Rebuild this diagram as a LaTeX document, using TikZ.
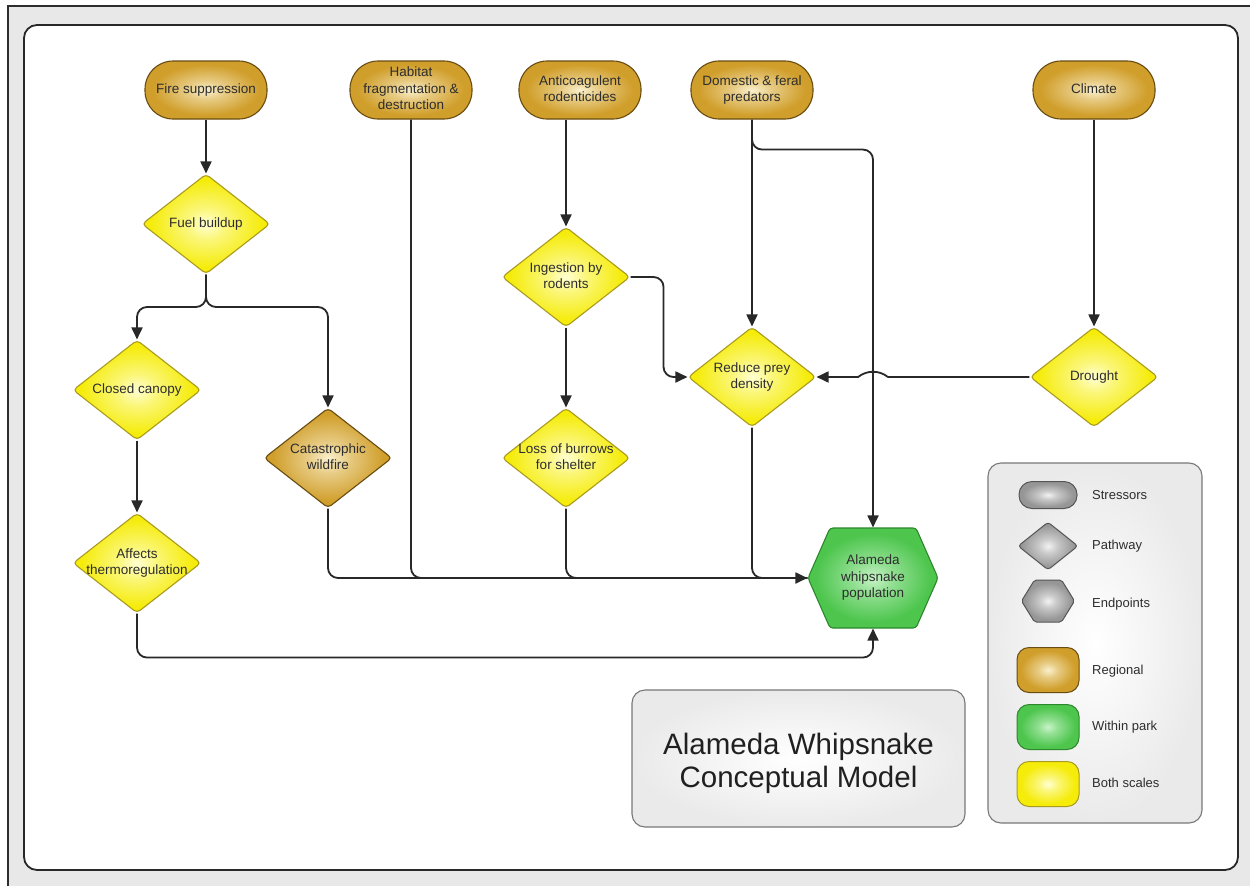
\documentclass[tikz,border=0pt]{standalone}
\usepackage{fontspec}
\setmainfont{Liberation Sans}
\usetikzlibrary{shapes.geometric,arrows.meta,calc}

% fill colours: light centre, saturated rim
\definecolor{goldin}{RGB}{250,240,205}
\definecolor{goldout}{RGB}{208,158,42}
\definecolor{goldedge}{RGB}{105,76,18}
\definecolor{yelin}{RGB}{255,255,210}
\definecolor{yelout}{RGB}{245,236,10}
\definecolor{yeledge}{RGB}{170,155,30}
\definecolor{grnin}{RGB}{200,243,200}
\definecolor{grnout}{RGB}{78,198,78}
\definecolor{grnedge}{RGB}{45,135,45}
\definecolor{gryin}{RGB}{242,242,242}
\definecolor{gryout}{RGB}{150,150,150}
\definecolor{gryedge}{RGB}{85,85,85}
\definecolor{panelin}{RGB}{255,255,255}
\definecolor{panelout}{RGB}{234,234,234}
\definecolor{paneledge}{RGB}{120,120,120}
\definecolor{ink}{RGB}{45,45,45}
\definecolor{wire}{RGB}{40,40,40}
\definecolor{pagegray}{RGB}{232,232,232}

\pgfdeclareradialshading{goldball}{\pgfpointorigin}{color(0bp)=(goldin); color(8bp)=(goldin!55!goldout); color(22bp)=(goldout); color(50bp)=(goldout)}
\pgfdeclareradialshading{yelball}{\pgfpointorigin}{color(0bp)=(yelin); color(8bp)=(yelin!55!yelout); color(22bp)=(yelout); color(50bp)=(yelout)}
\pgfdeclareradialshading{grnball}{\pgfpointorigin}{color(0bp)=(grnin); color(8bp)=(grnin!55!grnout); color(22bp)=(grnout); color(50bp)=(grnout)}
\pgfdeclareradialshading{gryball}{\pgfpointorigin}{color(0bp)=(gryin); color(8bp)=(gryin!55!gryout); color(22bp)=(gryout); color(50bp)=(gryout)}
\pgfdeclareradialshading{panelball}{\pgfpointorigin}{color(0bp)=(panelin); color(25bp)=(panelout); color(50bp)=(panelout)}

% centred lines in a box of zero width, so the text never enlarges its shape
\newcommand{\stacked}[1]{\makebox[0pt]{\begin{tabular}{@{}c@{}}#1\end{tabular}}}

\tikzset{
  base/.style={font=\fontsize{13.5}{16.5}\selectfont, text=ink, line width=1.1pt, inner sep=0pt},
  stressor/.style={base, rectangle, rounded corners=28pt, minimum width=122pt,
    minimum height=58pt, shade, shading=goldball, draw=goldedge},
  pathway/.style={base, diamond, rounded corners=4pt, minimum width=128pt,
    minimum height=100pt, shade, shading=yelball, draw=yeledge},
  regpath/.style={pathway, shading=goldball, draw=goldedge},
  hexbox/.style={base, rectangle, minimum width=130pt, minimum height=100pt},
  hexfill/.style={shading=grnball, draw=grnedge, line width=1.1pt, rounded corners=3pt},
  wire/.style={draw=wire, line width=1.8pt, rounded corners=10pt},
  arr/.style={wire, -{Triangle[length=12pt,width=11pt]}},
  panel/.style={rectangle, rounded corners=13pt, shade, shading=panelball,
    draw=paneledge, line width=1.1pt},
  legtext/.style={font=\fontsize{13}{15}\selectfont, text=ink, anchor=west, inner sep=0pt},
  legshape/.style={line width=1pt, shade, shading=gryball, draw=gryedge, inner sep=0pt},
  legscale/.style={rectangle, rounded corners=12pt, minimum width=62pt,
    minimum height=45pt, line width=1pt, inner sep=0pt}
}

\begin{document}
\begin{tikzpicture}[x=1pt,y=-1pt]
\useasboundingbox (0,0) rectangle (1250,886);

% page and frame
\fill[white] (0,0) rectangle (1250,886);
\fill[pagegray] (8,6) rectangle (1250,886);
\draw[ink, line width=1.5pt] (8,886) -- (8,6) -- (1250,6);
\filldraw[fill=white, draw=wire, line width=1.8pt, rounded corners=13pt] (24,25) rectangle (1238,870);

% legend panel and title panel
\node[panel, minimum width=214pt, minimum height=360pt] (legend) at (1095,643) {};
\node[panel, minimum width=333pt, minimum height=137pt] (title) at (798.5,758.5) {};
\node[font=\fontsize{29.5}{33}\selectfont, text=ink!70!black, align=center, inner sep=0pt]
  (titletext) at (798.5,763) {Alameda Whipsnake\\Conceptual Model};

% stressors
\node[stressor] (fire) at (206,90) {\stacked{Fire suppression}};
\node[stressor] (habitat) at (411,90) {\stacked{Habitat\\fragmentation \&\\destruction}};
\node[stressor] (anti) at (580,90) {\stacked{Anticoagulent\\rodenticides}};
\node[stressor] (dom) at (752,90) {\stacked{Domestic \& feral\\predators}};
\node[stressor] (climate) at (1094,90) {\stacked{Climate}};

% pathways
\node[pathway] (fuel) at (206,224) {\stacked{Fuel buildup}};
\node[pathway] (canopy) at (137,390) {\stacked{Closed canopy}};
\node[regpath] (wildfire) at (328,458) {\stacked{Catastrophic\\wildfire}};
\node[pathway] (thermo) at (137,563) {\stacked{Affects\\thermoregulation}};
\node[pathway] (ing) at (566,277) {\stacked{Ingestion by\\rodents}};
\node[pathway] (loss) at (566,458) {\stacked{Loss of burrows\\for shelter}};
\node[pathway] (prey) at (752,377) {\stacked{Reduce prey\\density}};
\node[pathway] (drought) at (1094,377) {\stacked{Drought}};

% endpoint: hexagon behind its text node
\shadedraw[hexfill, shift={(873,578)}] (-65,0) -- (-43,-50) -- (43,-50) -- (65,0) -- (43,50) -- (-43,50) -- cycle;
\node[hexbox] (pop) at (873,578) {\stacked{Alameda\\whipsnake\\population}};

% connectors
\coordinate (fork) at (206,307);
\draw[arr] (fire) -- (fuel);
\draw[arr] (fuel.south) -- (fork) -| (canopy.north);
\draw[arr] (fuel.south) -- (fork) -| (wildfire.north);
\draw[arr] (canopy) -- (thermo);
\draw[arr] (thermo.south) |- ([yshift=-29pt]pop.south) -- (pop.south);
\draw[wire] (habitat.south) |- (pop.west);
\draw[wire] (loss.south) |- (pop.west);
\draw[wire] (prey.south) |- (pop.west);
\draw[arr] (wildfire.south) |- (pop.west);
\draw[arr] (anti.south -| ing.north) -- (ing.north);
\draw[arr] (ing) -- (loss);
\draw[arr] (ing.east) -- ++(33,0) |- (prey.west);
\draw[arr] (dom) -- (prey);
\draw[arr] (dom.south) -- ++(0,30) -| (pop.north);
\draw[arr] (climate) -- (drought);
\coordinate (hop) at (pop.north |- drought.west);
\draw[arr, sharp corners] (drought.west) -- ([xshift=15pt]hop)
  .. controls ([xshift=6pt,yshift=7pt]hop) and ([xshift=-6pt,yshift=7pt]hop) .. ([xshift=-15pt]hop)
  -- (prey.east);

% legend entries
\node[legshape, rectangle, rounded corners=13pt, minimum width=58pt, minimum height=27pt] (lgs) at (1048,495) {};
\node[legshape, diamond, rounded corners=3pt, minimum width=60pt, minimum height=48pt] (lgp) at (1048,546) {};
\shadedraw[legshape, rounded corners=2pt, shift={(1048,601)}] (-26.5,0) -- (-13.5,-21) -- (13.5,-21) -- (26.5,0) -- (13.5,21) -- (-13.5,21) -- cycle;
\node[legscale, shade, shading=goldball, draw=goldedge] (lgr) at (1048,670) {};
\node[legscale, shade, shading=grnball, draw=grnedge] (lgw) at (1048,727) {};
\node[legscale, shade, shading=yelball, draw=yeledge] (lgb) at (1048,784) {};

\node[legtext] (lgsT) at (1092,495) {Stressors};
\node[legtext] (lgpT) at (1092,546) {Pathway};
\node[legtext] (lgeT) at (1092,604) {Endpoints};
\node[legtext] (lgrT) at (1092,671) {Regional};
\node[legtext] (lgwT) at (1092,727) {Within park};
\node[legtext] (lgbT) at (1092,783) {Both scales};
\end{tikzpicture}
\end{document}
